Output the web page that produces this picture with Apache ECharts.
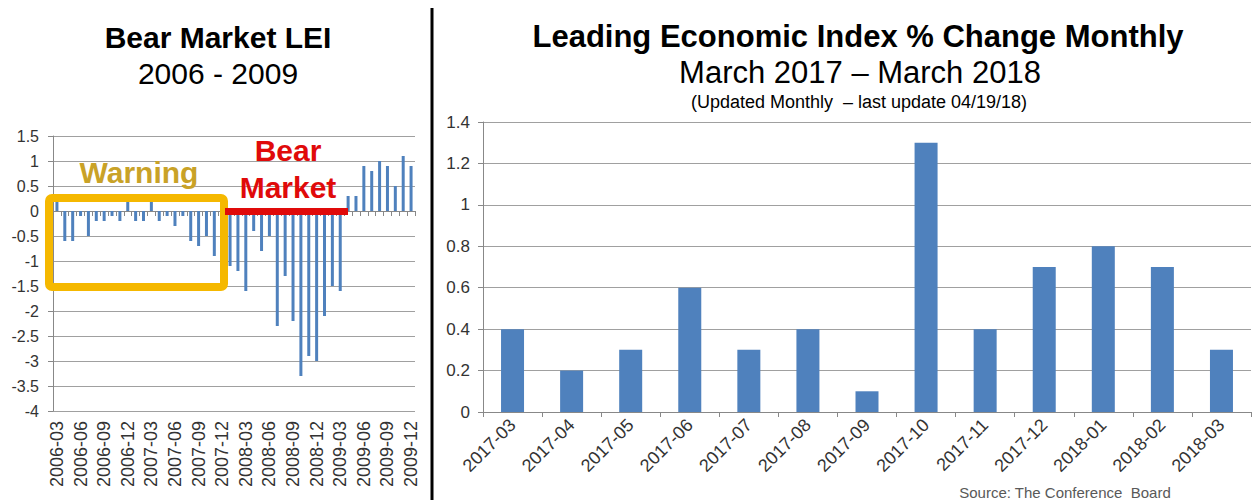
<!DOCTYPE html>
<html><head><meta charset="utf-8">
<script src="https://cdn.jsdelivr.net/npm/echarts@6/dist/echarts.min.js"></script>
<style>html,body{margin:0;padding:0;background:#fff}#c{width:1252px;height:500px}</style>
</head><body><div id="c"></div>
<script>
const bearMonths = ['2006-03','2006-04','2006-05','2006-06','2006-07','2006-08','2006-09','2006-10','2006-11','2006-12',
  '2007-01','2007-02','2007-03','2007-04','2007-05','2007-06','2007-07','2007-08','2007-09','2007-10','2007-11','2007-12',
  '2008-01','2008-02','2008-03','2008-04','2008-05','2008-06','2008-07','2008-08','2008-09','2008-10','2008-11','2008-12',
  '2009-01','2009-02','2009-03','2009-04','2009-05','2009-06','2009-07','2009-08','2009-09','2009-10','2009-11','2009-12'];
const bearValues = [0.2,-0.6,-0.6,-0.1,-0.5,-0.2,-0.2,-0.1,-0.2,0.2,
  -0.2,-0.2,0.2,-0.2,-0.1,-0.3,-0.1,-0.6,-0.7,-0.5,-0.9,-0.2,
  -1.1,-1.2,-1.6,-0.4,-0.8,-0.5,-2.3,-1.3,-2.2,-3.3,-2.9,-3.0,
  -2.1,-1.5,-1.6,0.3,0.3,0.9,0.8,1.0,0.9,0.5,1.1,0.9];
const recentMonths = ['2017-03','2017-04','2017-05','2017-06','2017-07','2017-08','2017-09','2017-10','2017-11','2017-12','2018-01','2018-02','2018-03'];
const recentValues = [0.4,0.2,0.3,0.6,0.3,0.4,0.1,1.3,0.4,0.7,0.8,0.7,0.3];

const FONT = '"Liberation Sans", Arial, sans-serif';
const gridColor = '#a0a0a0';
const labelColor = '#333';

const chart = echarts.init(document.getElementById('c'), null, {renderer: 'svg'});
const option = {
  animation: false,
  backgroundColor: '#fff',
  textStyle: {fontFamily: FONT},
  grid: [
    {left: 53, top: 136, width: 362, height: 275, containLabel: false, outerBoundsMode: 'none'},
    {left: 483, top: 122, width: 768, height: 290, containLabel: false, outerBoundsMode: 'none'}
  ],
  xAxis: [
    {gridIndex: 0, type: 'category', data: bearMonths, position: 'bottom',
      axisLine: {show: false, onZero: false}, axisTick: {show: false}, splitLine: {show: false},
      axisLabel: {interval: 2, rotate: 90, fontSize: 18, color: labelColor, margin: 10, fontFamily: FONT}},
    {gridIndex: 0, type: 'category', data: bearMonths, position: 'bottom',
      axisLine: {show: true, onZero: true, lineStyle: {color: '#888', width: 1}},
      axisTick: {show: true, interval: 0, length: 5, lineStyle: {color: '#888'}},
      axisLabel: {show: false}, splitLine: {show: false}},
    {gridIndex: 1, type: 'category', data: recentMonths, position: 'bottom',
      axisLine: {show: true, lineStyle: {color: '#888', width: 1}},
      axisTick: {show: true, interval: 0, length: 5, lineStyle: {color: '#888'}},
      axisLabel: {interval: 0, rotate: 45, fontSize: 18, color: labelColor, margin: 10, fontFamily: FONT},
      splitLine: {show: false}}
  ],
  yAxis: [
    {gridIndex: 0, type: 'value', min: -4, max: 1.5, interval: 0.5,
      axisLine: {show: true, lineStyle: {color: '#888'}},
      axisTick: {show: true, length: 5, lineStyle: {color: '#888'}},
      axisLabel: {fontSize: 16, color: labelColor, margin: 14, fontFamily: FONT},
      splitLine: {show: true, lineStyle: {color: gridColor, width: 1}}},
    {gridIndex: 1, type: 'value', min: 0, max: 1.4, interval: 0.2,
      axisLine: {show: true, lineStyle: {color: '#888'}},
      axisTick: {show: true, length: 5, lineStyle: {color: '#888'}},
      axisLabel: {fontSize: 17, color: labelColor, margin: 13, fontFamily: FONT},
      splitLine: {show: true, lineStyle: {color: gridColor, width: 1}}}
  ],
  series: [
    {type: 'bar', xAxisIndex: 0, yAxisIndex: 0, data: bearValues, barWidth: 3,
      itemStyle: {color: '#4f81bd'}},
    {type: 'bar', xAxisIndex: 2, yAxisIndex: 1, data: recentValues, barWidth: 23,
      itemStyle: {color: '#4f81bd'}}
  ],
  graphic: [
    {type: 'line', shape: {x1: 432, y1: 8, x2: 432, y2: 500}, style: {stroke: '#000', lineWidth: 3}, z: 100},
    {type: 'text', x: 218, y: 37, style: {text: 'Bear Market LEI', font: 'bold 30px ' + FONT, fill: '#000', textAlign: 'center', textVerticalAlign: 'middle'}},
    {type: 'text', x: 218, y: 73, style: {text: '2006 - 2009', font: '30px ' + FONT, fill: '#000', textAlign: 'center', textVerticalAlign: 'middle'}},
    {type: 'text', x: 858, y: 36, style: {text: 'Leading Economic Index % Change Monthly', font: 'bold 31px ' + FONT, fill: '#000', textAlign: 'center', textVerticalAlign: 'middle'}},
    {type: 'text', x: 860, y: 72, style: {text: 'March 2017 \u2013 March 2018', font: '31px ' + FONT, fill: '#000', textAlign: 'center', textVerticalAlign: 'middle'}},
    {type: 'text', x: 859, y: 102, style: {text: '(Updated Monthly  \u2013 last update 04/19/18)', font: '18px ' + FONT, fill: '#000', textAlign: 'center', textVerticalAlign: 'middle'}},
    {type: 'text', x: 1065, y: 492, style: {text: 'Source: The Conference  Board', font: '15px ' + FONT, fill: '#595959', textAlign: 'center', textVerticalAlign: 'middle'}},
    {type: 'rect', shape: {x: 49, y: 198, width: 175, height: 89, r: 3}, style: {fill: 'none', stroke: '#f5b800', lineWidth: 8}, z: 50},
    {type: 'text', x: 139, y: 172, style: {text: 'Warning', font: 'bold 30px ' + FONT, fill: '#c9a227', textAlign: 'center', textVerticalAlign: 'middle'}, z: 60},
    {type: 'line', shape: {x1: 225, y1: 211.5, x2: 348, y2: 211.5}, style: {stroke: '#e00a0a', lineWidth: 7}, z: 50},
    {type: 'text', x: 288, y: 150, style: {text: 'Bear', font: 'bold 30px ' + FONT, fill: '#e00a0a', textAlign: 'center', textVerticalAlign: 'middle'}, z: 60},
    {type: 'text', x: 288, y: 187, style: {text: 'Market', font: 'bold 30px ' + FONT, fill: '#e00a0a', textAlign: 'center', textVerticalAlign: 'middle'}, z: 60}
  ]
};
chart.setOption(option);
</script>
</body></html>
